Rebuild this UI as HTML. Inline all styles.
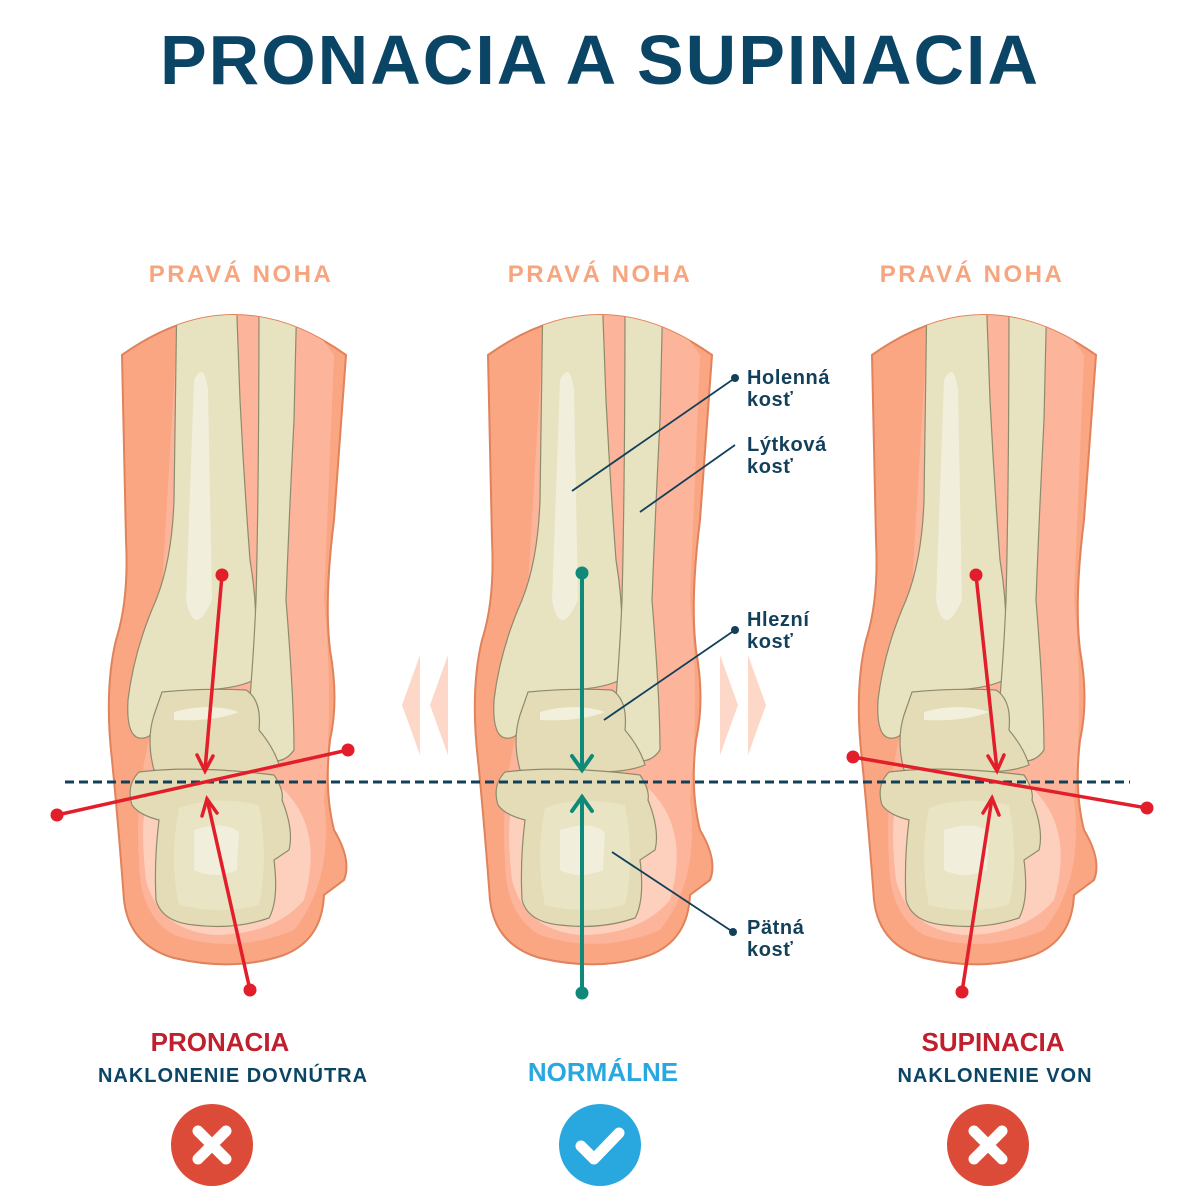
<!DOCTYPE html>
<html><head><meta charset="utf-8"><style>
html,body{margin:0;padding:0;background:#fff}
svg{display:block}
text{font-family:"Liberation Sans",sans-serif;font-weight:bold}
</style></head><body>
<svg width="1200" height="1200" viewBox="0 0 1200 1200" xmlns="http://www.w3.org/2000/svg">
<defs>
<path id="skin" d="M488,355 Q600,275 712,355 L700,520 Q690,600 696,650 Q705,700 696,740 Q690,790 700,830 Q718,860 710,880 L690,895 Q688,940 650,955 Q600,972 540,958 Q495,945 490,900 Q484,820 478,760 Q470,690 482,640 Q495,600 492,540 Z"/>
<clipPath id="skinclip"><use href="#skin"/></clipPath>
<g id="foot">
  <use href="#skin" fill="#faa683" stroke="#e0825a" stroke-width="2"/>
  <g clip-path="url(#skinclip)">
  <path d="M545,300 L660,300 L700,355 L690,600 Q700,700 690,800 Q700,880 660,930 Q600,955 540,935 Q505,915 505,860 Q500,790 520,720 Z" fill="#fcb59a"/>
  <path d="M515,790 Q560,760 650,790 Q690,830 670,900 Q640,935 580,935 Q525,930 512,880 Q505,820 515,790 Z" fill="#fdd0bd"/>
  <path d="M543,290 L602,290 L606,400 Q610,480 616,560 Q626,620 620,680 Q600,690 560,690 Q525,700 522,720 Q520,740 505,738 Q492,735 494,700 Q500,650 522,600 Q538,560 540,500 Z" fill="#e7e2c0" stroke="#8f8a6c" stroke-width="1.2"/>
  <path d="M560,380 Q570,360 574,390 L578,600 Q560,640 552,600 Z" fill="#f1eedb"/>
  <path d="M625,290 L663,290 L660,420 Q655,520 652,600 Q660,700 660,750 Q650,765 630,760 Q618,750 615,710 Q620,650 622,600 Q625,480 625,290 Z" fill="#e7e2c0" stroke="#8f8a6c" stroke-width="1.2"/>
  </g>
  <path d="M528,692 Q570,688 612,690 Q628,700 625,730 Q640,748 645,765 Q620,775 580,770 Q540,775 520,770 Q512,740 520,715 Z" fill="#e3dcb6" stroke="#8f8a6c" stroke-width="1.2"/>
  <path d="M540,712 Q575,702 605,712 Q580,722 540,720 Z" fill="#f2efdc"/>
  <path d="M505,772 Q560,765 640,775 Q650,790 648,800 Q660,830 655,850 L640,860 Q645,900 635,918 Q600,930 560,925 Q528,922 522,900 Q520,860 525,820 Q505,815 498,805 Q492,785 505,772 Z" fill="#e3dcb6" stroke="#8f8a6c" stroke-width="1.2"/>
  <path d="M545,808 Q580,795 625,805 Q635,860 625,905 Q585,915 545,905 Q535,860 545,808 Z" fill="#e9e4c4"/>
  <path d="M560,830 Q590,820 605,832 L603,870 Q580,880 560,870 Z" fill="#f1eedb"/>
</g>
</defs>

<text x="600" y="84" text-anchor="middle" font-size="70" fill="#0b4566" letter-spacing="2">PRONACIA A SUPINACIA</text>

<text x="241" y="282" text-anchor="middle" font-size="24" fill="#f7a57e" letter-spacing="2.5">PRAVÁ NOHA</text>
<text x="600" y="282" text-anchor="middle" font-size="24" fill="#f7a57e" letter-spacing="2.5">PRAVÁ NOHA</text>
<text x="972" y="282" text-anchor="middle" font-size="24" fill="#f7a57e" letter-spacing="2.5">PRAVÁ NOHA</text>

<use href="#foot" transform="translate(-366,0)"/>
<use href="#foot"/>
<use href="#foot" transform="translate(384,0)"/>

<path d="M420,655 L402,705 L420,755 Z" fill="#fdd8c8"/>
<path d="M448,655 L430,705 L448,755 Z" fill="#fdd8c8"/>
<path d="M720,655 L738,705 L720,755 Z" fill="#fdd8c8"/>
<path d="M748,655 L766,705 L748,755 Z" fill="#fdd8c8"/>

<line x1="65" y1="782" x2="1130" y2="782" stroke="#123f5a" stroke-width="3" stroke-dasharray="9,5"/>

<g stroke="#123f5a" stroke-width="1.8" fill="none">
  <line x1="572" y1="491" x2="735" y2="378"/>
  <line x1="640" y1="512" x2="735" y2="445"/>
  <line x1="604" y1="720" x2="735" y2="630"/>
  <line x1="612" y1="852" x2="733" y2="932"/>
</g>
<g fill="#123f5a">
  <circle cx="735" cy="378" r="4"/><circle cx="735" cy="630" r="4"/><circle cx="733" cy="932" r="4"/>
</g>
<g font-size="20" fill="#123f5a" letter-spacing="0.6">
  <text x="747" y="384">Holenná</text><text x="747" y="406">kosť</text>
  <text x="747" y="451">Lýtková</text><text x="747" y="473">kosť</text>
  <text x="747" y="626">Hlezní</text><text x="747" y="648">kosť</text>
  <text x="747" y="934">Pätná</text><text x="747" y="956">kosť</text>
</g>

<g stroke="#0f8a7a" stroke-width="4" fill="none" stroke-linecap="round">
  <line x1="582" y1="573" x2="582" y2="770"/>
  <polyline points="572,756 582,770 592,756"/>
  <line x1="582" y1="797" x2="582" y2="993"/>
  <polyline points="572,811 582,797 592,811"/>
</g>
<circle cx="582" cy="573" r="6.5" fill="#0f8a7a"/><circle cx="582" cy="993" r="6.5" fill="#0f8a7a"/>

<g stroke="#e31e2b" stroke-width="3.5" fill="none" stroke-linecap="round">
  <line x1="222" y1="575" x2="205" y2="770"/>
  <polyline points="197,755 205,771 213,756"/>
  <line x1="250" y1="990" x2="207" y2="799"/>
  <polyline points="202,816 207,799 217,813"/>
  <line x1="57" y1="815" x2="348" y2="750"/>
  <line x1="976" y1="575" x2="997" y2="770"/>
  <polyline points="988,756 997,771 1004,755"/>
  <line x1="962" y1="992" x2="992" y2="798"/>
  <polyline points="983,813 992,798 999,815"/>
  <line x1="853" y1="757" x2="1147" y2="808"/>
</g>
<g fill="#e31e2b">
  <circle cx="222" cy="575" r="6.5"/><circle cx="250" cy="990" r="6.5"/><circle cx="57" cy="815" r="6.5"/><circle cx="348" cy="750" r="6.5"/>
  <circle cx="976" cy="575" r="6.5"/><circle cx="962" cy="992" r="6.5"/><circle cx="853" cy="757" r="6.5"/><circle cx="1147" cy="808" r="6.5"/>
</g>

<text x="220" y="1051" text-anchor="middle" font-size="26" fill="#c0202e">PRONACIA</text>
<text x="233" y="1082" text-anchor="middle" font-size="20" fill="#0b4566" letter-spacing="1">NAKLONENIE DOVNÚTRA</text>
<text x="603" y="1081" text-anchor="middle" font-size="26" fill="#29a8e0">NORMÁLNE</text>
<text x="993" y="1051" text-anchor="middle" font-size="26" fill="#c0202e">SUPINACIA</text>
<text x="995" y="1082" text-anchor="middle" font-size="20" fill="#0b4566" letter-spacing="1">NAKLONENIE VON</text>

<circle cx="212" cy="1145" r="41" fill="#dc4a38"/>
<g stroke="#fff" stroke-width="11" stroke-linecap="round"><line x1="198" y1="1131" x2="226" y2="1159"/><line x1="226" y1="1131" x2="198" y2="1159"/></g>
<circle cx="600" cy="1145" r="41" fill="#29a8e0"/>
<polyline points="581,1146 594,1159 619,1133" stroke="#fff" stroke-width="11" stroke-linecap="round" stroke-linejoin="round" fill="none"/>
<circle cx="988" cy="1145" r="41" fill="#dc4a38"/>
<g stroke="#fff" stroke-width="11" stroke-linecap="round"><line x1="974" y1="1131" x2="1002" y2="1159"/><line x1="1002" y1="1131" x2="974" y2="1159"/></g>
</svg>
</body></html>
